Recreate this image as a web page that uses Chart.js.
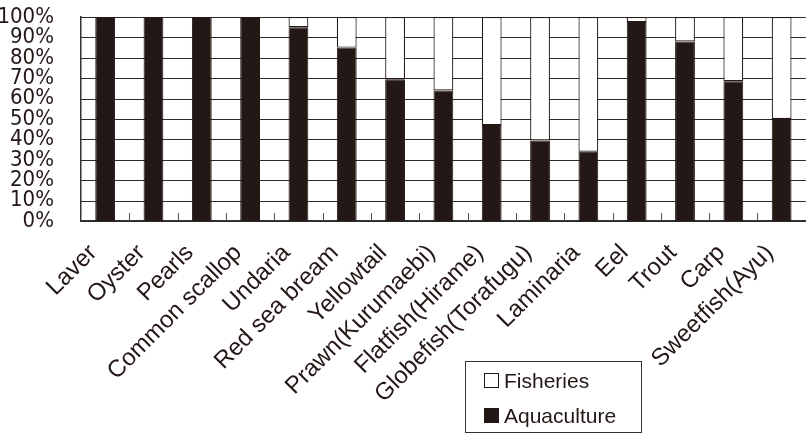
<!DOCTYPE html>
<html>
<head>
<meta charset="utf-8">
<script src="https://cdn.jsdelivr.net/npm/chart.js@4.4.1/dist/chart.umd.min.js"></script>
<style>
  body { margin: 0; background: #fff; overflow: hidden; }
  #wrap { width: 812px; height: 436px; }
</style>
</head>
<body>
<div id="wrap"><canvas id="shareChart"></canvas></div>
<script>
// categories and values (% of production)
const species = ['Laver', 'Oyster', 'Pearls', 'Common scallop', 'Undaria', 'Red sea bream', 'Yellowtail',
  'Prawn(Kurumaebi)', 'Flatfish(Hirame)', 'Globefish(Torafugu)', 'Laminaria', 'Eel', 'Trout', 'Carp', 'Sweetfish(Ayu)'];
const aquaculture = [100, 100, 100, 100, 95, 85, 69.5, 64, 47, 39.5, 34, 97.5, 88, 68.5, 50];
const fisheries = [0, 0, 0, 0, 5, 15, 30.5, 36, 53, 60.5, 66, 2.5, 12, 31.5, 50];
const yStep = 10;

const ink = '#231815';

// lignes horizontales du quadrillage, posées sur les graduations de l'axe y
const hGrid = {
  id: 'hGrid',
  beforeDatasetsDraw(chart) {
    const y = chart.scales.y;
    const area = chart.chartArea;
    const ctx = chart.ctx;
    ctx.save();
    ctx.strokeStyle = '#2a2a2a';
    ctx.lineWidth = 1;
    y.ticks.forEach(t => {
      const py = Math.round(y.getPixelForValue(t.value)) + 0.5;
      ctx.beginPath();
      ctx.moveTo(area.left, py);
      ctx.lineTo(area.right, py);
      ctx.stroke();
    });
    ctx.restore();
  }
};

// petits traits verticaux entre les catégories, vers l'intérieur
const innerTicks = {
  id: 'innerTicks',
  afterDatasetsDraw(chart) {
    const x = chart.scales.x;
    const ctx = chart.ctx;
    const bottom = chart.chartArea.bottom;
    const step = x.getPixelForValue(1) - x.getPixelForValue(0);
    ctx.save();
    ctx.strokeStyle = '#555';
    ctx.lineWidth = 1;
    for (let i = 1; i < species.length; i++) {
      const px = Math.round(x.getPixelForValue(i) - step / 2) + 0.5;
      ctx.beginPath();
      ctx.moveTo(px, bottom);
      ctx.lineTo(px, bottom - 8);
      ctx.stroke();
    }
    ctx.restore();
  }
};

// légende encadrée en bas
const boxLegend = {
  id: 'boxLegend',
  afterDraw(chart) {
    const ctx = chart.ctx;
    ctx.save();
    ctx.strokeStyle = '#333';
    ctx.lineWidth = 1;
    ctx.strokeRect(465.5, 361.5, 176, 71);
    ctx.font = '21px "Liberation Sans", Arial, sans-serif';
    ctx.textBaseline = 'alphabetic';
    const items = chart.data.datasets.slice().reverse();
    items.forEach((ds, i) => {
      const base = 388 + i * 35;
      ctx.fillStyle = ds.backgroundColor;
      ctx.fillRect(484, base - 15, 15, 15);
      ctx.strokeStyle = ink;
      ctx.strokeRect(484.5, base - 14.5, 14, 14);
      ctx.fillStyle = ink;
      ctx.fillText(ds.label, 504, base);
    });
    ctx.restore();
  }
};

const ctx1 = document.getElementById('shareChart').getContext('2d');
const shareChart = new Chart(ctx1, {
  type: 'bar',
  data: {
    labels: species,
    datasets: [{
      label: 'Aquaculture',
      data: aquaculture,
      backgroundColor: ink,
      borderColor: ink,
      borderWidth: 1,
      barPercentage: 0.41,
      categoryPercentage: 1
    }, {
      label: 'Fisheries',
      data: fisheries,
      backgroundColor: '#ffffff',
      borderColor: ink,
      borderWidth: 1.2,
      borderSkipped: false,
      barPercentage: 0.41,
      categoryPercentage: 1
    }]
  },
  options: {
    responsive: true,
    maintainAspectRatio: false,
    animation: false,
    layout: { padding: { top: 17, left: 0, right: 0, bottom: 0 } },
    plugins: { legend: { display: false }, tooltip: { enabled: false } },
    scales: {
      x: {
        stacked: true,
        grid: { display: false },
        border: { color: '#333', width: 1.5 },
        ticks: {
          color: ink,
          autoSkip: false,
          maxRotation: 45,
          minRotation: 45,
          padding: 10,
          labelOffset: -12,
          font: { family: '"Liberation Sans", Arial, sans-serif', size: 24 }
        },
        afterFit(scale) {
          scale.height = 215;
          scale.paddingTop = 0;
          scale.paddingBottom = 0;
        }
      },
      y: {
        stacked: true,
        min: 0,
        max: 100,
        grid: { display: false },
        border: { color: '#333', width: 1.5 },
        ticks: {
          stepSize: yStep,
          color: ink,
          autoSkip: false,
          padding: 19,
          callback: v => v + '%',
          font: { family: '"Liberation Sans Narrow", "DejaVu Sans Condensed", sans-serif', size: 22, lineHeight: 1 }
        },
        afterFit(scale) {
          scale.width = 81;
          scale.paddingTop = 0;
          scale.paddingBottom = 0;
        }
      }
    }
  },
  plugins: [hGrid, innerTicks, boxLegend]
});
</script>
</body>
</html>
